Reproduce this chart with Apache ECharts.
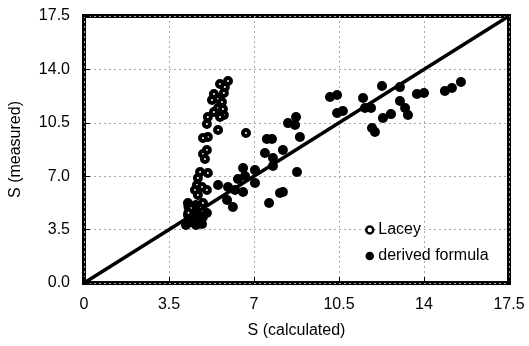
<!DOCTYPE html>
<html>
<head>
<meta charset="utf-8">
<script src="https://cdn.jsdelivr.net/npm/echarts@6/dist/echarts.min.js"></script>
<style>
  html, body { margin: 0; padding: 0; background: #fff; }
  #chart { width: 529px; height: 346px; }
</style>
</head>
<body>
<div id="chart"></div>
<script>
// S (calculated) vs S (measured): Lacey regime formula and the derived formula
const laceyCalc = [5.93, 5.60, 5.80, 5.76, 5.35, 5.52, 5.68, 5.27, 5.52, 5.72, 5.76, 5.60, 5.35, 5.10, 5.06, 5.52, 5.10, 4.90, 5.06, 4.90, 4.98, 5.10, 4.78, 4.69, 4.65, 4.86, 5.06, 4.57, 4.69, 4.90, 4.40, 4.30, 6.67];
const laceyMeas = [13.24, 13.04, 12.84, 12.45, 12.39, 12.06, 11.86, 11.99, 11.47, 11.40, 11.01, 10.88, 11.21, 10.88, 10.42, 10.03, 9.57, 9.50, 8.72, 8.45, 8.13, 7.21, 7.27, 6.88, 6.42, 6.29, 6.09, 6.09, 5.77, 5.24, 4.90, 4.60, 9.83];

const derivedCalc = [10.13, 10.42, 10.42, 10.66, 11.49, 11.57, 11.82, 11.86, 11.98, 12.27, 12.31, 12.64, 13.01, 13.01, 13.22, 13.34, 13.71, 14.00, 14.86, 15.15, 15.52,
  8.40, 8.69, 8.73, 8.89, 7.53, 7.74, 7.45, 7.78, 8.19, 7.78, 8.77, 6.55, 7.04, 6.63, 6.34, 7.04, 6.22, 6.55, 8.07, 8.19, 7.62, 6.13, 5.93, 5.52, 5.89, 5.06,
  4.28, 4.45, 4.61, 4.28, 4.53, 4.78, 4.36, 4.65, 4.90, 4.20, 4.61, 4.86, 4.45, 4.70, 4.30];
const derivedMeas = [12.19, 12.32, 11.14, 11.27, 12.12, 11.47, 11.47, 10.16, 9.90, 12.91, 10.81, 11.07, 12.84, 11.93, 11.47, 11.01, 12.39, 12.45, 12.58, 12.78, 13.17,
  10.48, 10.35, 10.88, 9.57, 9.44, 9.44, 8.52, 8.19, 8.72, 7.67, 7.27, 7.54, 7.40, 7.01, 6.82, 6.55, 6.09, 5.96, 5.90, 5.96, 5.24, 4.98, 6.29, 6.42, 5.44, 4.59,
  5.24, 4.78, 5.11, 4.46, 4.26, 4.13, 4.00, 4.65, 4.33, 3.80, 3.80, 3.87, 4.00, 3.90, 5.00];

// line of perfect agreement
const equalityLine = [[0, 0], [17.5, 17.5]];

const xTickLabels = ['0', '3.5', '7', '10.5', '14', '17.5'];
const yTickLabels = ['0.0', '3.5', '7.0', '10.5', '14.0', '17.5'];

const pairs = (xs, ys) => xs.map((x, i) => [x, ys[i]]);
const font = 'Liberation Sans, Arial, sans-serif';

const chart = echarts.init(document.getElementById('chart'), null, { renderer: 'canvas' });

const gridLine = { show: true, lineStyle: { color: '#a8a8a8', width: 1, type: [2, 3] } };

chart.setOption({
  animation: false,
  backgroundColor: '#fff',
  grid: { left: 84, right: 20, top: 16, bottom: 63, show: true, borderColor: '#000', borderWidth: 4, backgroundColor: 'transparent' },
  xAxis: {
    type: 'value', min: 0, max: 17.5, interval: 3.5,
    name: 'S (calculated)', nameLocation: 'middle', nameGap: 40,
    nameTextStyle: { fontFamily: font, fontSize: 16, color: '#000' },
    axisLine: { show: false },
    axisTick: { show: true, inside: true, length: 6, lineStyle: { color: '#000', width: 1 } },
    axisLabel: { fontFamily: font, fontSize: 16, color: '#000', margin: 14,
      formatter: (v, i) => xTickLabels[i] },
    splitLine: gridLine
  },
  yAxis: {
    type: 'value', min: 0, max: 17.5, interval: 3.5,
    name: 'S (measured)', nameLocation: 'middle', nameGap: 60, nameRotate: 90,
    nameTextStyle: { fontFamily: font, fontSize: 16, color: '#000' },
    axisLine: { show: false },
    axisTick: { show: true, inside: true, length: 6, lineStyle: { color: '#000', width: 1 } },
    axisLabel: { fontFamily: font, fontSize: 16, color: '#000', margin: 14,
      formatter: (v, i) => yTickLabels[i] },
    splitLine: gridLine
  },
  legend: {
    orient: 'vertical', left: 360, top: 217, itemGap: 10,
    itemWidth: 7, itemHeight: 7,
    textStyle: { fontFamily: font, fontSize: 16, color: '#000' },
    data: [
      { name: 'Lacey', icon: 'circle', itemStyle: { color: '#fff', borderColor: '#000', borderWidth: 2.5 } },
      { name: 'derived formula', icon: 'circle', itemStyle: { color: '#000', borderColor: '#000', borderWidth: 1.5 } }
    ]
  },
  series: [
    {
      type: 'line', data: equalityLine, symbol: 'none', silent: true,
      lineStyle: { color: '#000', width: 3.5 }, z: 1
    },
    {
      name: 'derived formula', type: 'scatter', data: pairs(derivedCalc, derivedMeas),
      symbol: 'circle', symbolSize: 10,
      itemStyle: { color: '#000', opacity: 1 }, z: 2
    },
    {
      name: 'Lacey', type: 'scatter', data: pairs(laceyCalc, laceyMeas),
      symbol: 'circle', symbolSize: 6,
      itemStyle: { color: '#fff', borderColor: '#000', borderWidth: 4, opacity: 1 }, z: 3
    }
  ]
});
</script>
</body>
</html>
